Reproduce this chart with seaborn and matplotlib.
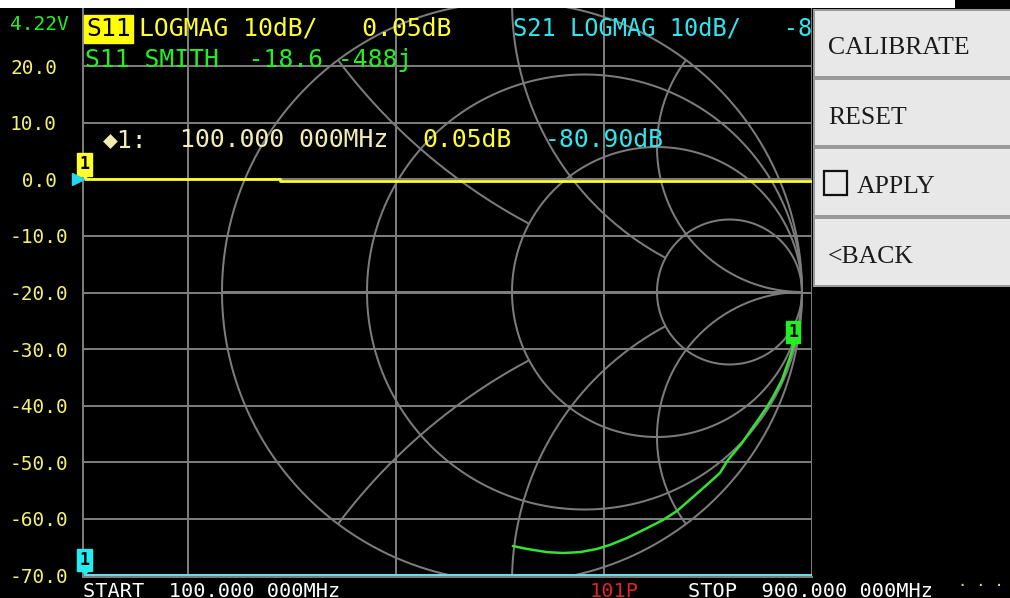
import numpy as np
import matplotlib
matplotlib.use("Agg")
import matplotlib.pyplot as plt
import matplotlib.transforms as mtransforms
from matplotlib.patches import Rectangle
import seaborn as sns

s11_freq_mhz = [100, 288, 900]
s11_logmag_db = [0.05, -0.30, -0.30]
s21_freq_mhz = [100, 900]
s21_logmag_db = [-80.90, -80.90]
# S11 on the Smith chart (reflection coefficient), 100 MHz -> 900 MHz
s11_gamma_re = [0.969, 0.959, 0.931, 0.900, 0.879, 0.831, 0.793, 0.745, 0.717, 0.683,
                0.624, 0.569, 0.521, 0.466, 0.397, 0.338, 0.293, 0.234, 0.176, 0.121,
                0.052, 0.003]
s11_gamma_im = [-0.190, -0.224, -0.303, -0.362, -0.397, -0.466, -0.521, -0.579, -0.624, -0.655,
                -0.707, -0.755, -0.786, -0.814, -0.848, -0.872, -0.886, -0.897, -0.900, -0.897,
                -0.886, -0.876]
db_ticks = [20, 10, 0, -10, -20, -30, -40, -50, -60, -70]
freq_grid_mhz = [200, 400, 600, 800]
smith_resistances = [3, 1, 1 / 3]
smith_reactances = [2, 1, 0.5]
menu_items = ["CALIBRATE", "RESET", "APPLY", "<BACK"]

header_s11 = "LOGMAG 10dB/   0.05dB"
header_s21 = "S21 LOGMAG 10dB/   -80.90dB"
smith_line = "S11 SMITH  -18.6 -488j"
marker_freq = "100.000 000MHz"
marker_s11 = "0.05dB"
marker_s21 = "-80.90dB"
start_text = "START  100.000 000MHz"
stop_text = "STOP  900.000 000MHz"
points_text = "101P"
battery_text = "4.22V"

# ---------------- style ----------------
sns.set_theme(style="dark")
plt.rcParams["font.family"] = ["DejaVu Sans Mono", "DejaVu Sans"]

GRID = "#7c7c7c"
LW = 1.45
YEL = "#ffff2e"
LABEL_YEL = "#f4f070"
CYAN_T = "#2ee6ee"
CYAN_L = "#6fd9e3"
GREEN_T = "#22f022"
GREEN_L = "#33e233"
PALE = "#f3ecb4"
MONO = "DejaVu Sans Mono"

W, H = 1010, 598
fig = plt.figure(figsize=(W / 100, H / 100), dpi=100, facecolor="black")


def fx(px):
    return px / W


def fy(py):
    return 1 - py / H


L, R, T, B = 83, 812, 8, 577
rect = [fx(L), fy(B), fx(R) - fx(L), fy(T) - fy(B)]

# Smith chart geometry: centre (512, 292) px, radius 290 px
CX, CY, RAD = 512, 292, 290
sx = ((L - CX) / RAD, (R - CX) / RAD)
sy = ((CY - B) / RAD, (CY - T) / RAD)

# --- Smith grid (bottom layer) ---
ax2 = fig.add_axes(rect)
ax2.set_facecolor("black")
ax2.set_xlim(*sx)
ax2.set_ylim(*sy)
ax2.axis("off")

t = np.linspace(0, 2 * np.pi, 4000)


def circ(cx, cy, r):
    return cx + r * np.cos(t), cy + r * np.sin(t)


def inside(x, y, cx, cy, r):
    return (x - cx) ** 2 + (y - cy) ** 2 < r ** 2 - 1e-9


def rcircle(rv):
    return rv / (1 + rv), 0.0, 1 / (1 + rv)


def draw(x, y, mask=None):
    if mask is not None:
        x = np.where(mask, x, np.nan)
        y = np.where(mask, y, np.nan)
    ax2.plot(x, y, color=GRID, lw=LW, solid_capstyle="butt")


# outer circle and real axis
draw(*circ(0, 0, 1))
ax2.plot([-1, 1], [0, 0], color=GRID, lw=LW)
# resistance circles
for rv in smith_resistances:
    draw(*circ(*rcircle(rv)))
# reactance arcs, hidden inside the next larger resistance circle
hide_in = {2: None, 1: 3, 0.5: 1}
for xv in smith_reactances:
    for sgn in (1, -1):
        x, y = circ(1, sgn / xv, 1 / xv)
        m = inside(x, y, 0, 0, 1.0000001)
        if hide_in[xv] is not None:
            m &= ~inside(x, y, *rcircle(hide_in[xv]))
        draw(x, y, m)

# --- log-mag axes (middle layer) ---
ax = fig.add_axes(rect)
ax.set_facecolor("none")
ax.set_xlim(98.5, 781)
ax.set_ylim(-70.35, 30.35)
ax.set_xticks(freq_grid_mhz)
ax.set_xticklabels([])
ax.set_yticks(db_ticks)
ax.set_yticklabels([f"{v:4.1f}" for v in db_ticks])
ax.grid(True, color=GRID, lw=LW)
ax.tick_params(axis="both", length=0)
ax.tick_params(axis="y", pad=73 * 0.72, labelsize=14, labelcolor=LABEL_YEL)
for lab in ax.get_yticklabels():
    lab.set_horizontalalignment("left")
    lab.set_fontfamily(MONO)
for s in ("top", "right"):
    ax.spines[s].set_visible(False)
for s in ("left", "bottom"):
    ax.spines[s].set_color(GRID)
    ax.spines[s].set_linewidth(LW)
ax.set_xlabel("")
ax.set_ylabel("")

ylo = ax.get_ylim()[0] + 0.35
s21_clipped = list(np.clip(s21_logmag_db, ylo, None))
sns.lineplot(x=s21_freq_mhz, y=s21_clipped, ax=ax, color=CYAN_L, lw=2.2,
             estimator=None, sort=False)
sns.lineplot(x=s11_freq_mhz, y=s11_logmag_db, ax=ax, color=YEL, lw=2.0,
             estimator=None, sort=False, drawstyle="steps-post")


def marker_box(axis, x, y, color):
    axis.annotate("1", xy=(x, y), xytext=(0, 15), textcoords="offset pixels",
                  ha="center", va="center", fontsize=12, fontweight="bold",
                  family=MONO, color="black", annotation_clip=False, zorder=6,
                  bbox=dict(boxstyle="square,pad=0.14", fc=color, ec=color))
    tr = mtransforms.offset_copy(axis.transData, fig=fig, x=0, y=4, units="dots")
    axis.plot([x], [y], marker="v", ms=6, color=color, mec=color,
              transform=tr, clip_on=False, zorder=6)


marker_box(ax, s11_freq_mhz[0], s11_logmag_db[0], YEL)
marker_box(ax, s21_freq_mhz[0], s21_clipped[0], "#22eef2")
tri = mtransforms.offset_copy(ax.transData, fig=fig, x=-7, y=0, units="dots")
ax.plot([s11_freq_mhz[0]], [0], marker=">", ms=9, color="#22d8f0", transform=tri,
        clip_on=False, zorder=7)

# --- Smith trace (top layer) ---
ax3 = fig.add_axes(rect)
ax3.set_facecolor("none")
ax3.axis("off")
sns.lineplot(x=s11_gamma_re, y=s11_gamma_im, ax=ax3, color=GREEN_L, lw=1.8,
             estimator=None, sort=False)
ax3.set_xlim(*sx)
ax3.set_ylim(*sy)
marker_box(ax3, s11_gamma_re[0], s11_gamma_im[0], "#22ee22")

# ---------------- header / footer texts ----------------
BIG = 17.8
SMALL = 14.6


def ftext(px, py, s, color, size=BIG, **kw):
    return fig.text(fx(px), fy(py), s, color=color, fontsize=size, family=MONO,
                    ha="left", va="baseline", **kw)


ftext(10, 30, battery_text, GREEN_T, size=14)
ftext(86, 36, "S11", "black",
      bbox=dict(boxstyle="square,pad=0.08", fc="#ffff00", ec="#ffff00"))
ftext(139, 36, header_s11, YEL)
# S21 header runs under the menu: clip it at the plot's right edge
ax.text(fx(513), fy(36), header_s21, color=CYAN_T, fontsize=17.0, family=MONO,
        ha="left", va="baseline", transform=fig.transFigure, clip_on=True)
ftext(85, 67, smith_line, GREEN_T)
ftext(103, 147, "\u25c61:", PALE)
ftext(180, 147, marker_freq, PALE)
ftext(422, 147, marker_s11, YEL)
ftext(545, 147, marker_s21, CYAN_T)
ftext(83, 597, start_text, "white", size=SMALL)
ftext(590, 597, points_text, "#e02424", size=SMALL)
ftext(688, 597, stop_text, "white", size=SMALL)
ftext(958, 590, "\u00b7 \u00b7 \u00b7", "#e8e040", size=11)

# white strip of the page above the screen
fig.patches.append(Rectangle((0, fy(8)), fx(955), 8 / H, transform=fig.transFigure,
                             fc="white", ec="none", zorder=1))

# ---------------- menu ----------------
axm = fig.add_axes([fx(813), fy(287), fx(1010) - fx(813), fy(9) - fy(287)])
axm.set_zorder(10)
axm.set_xlim(813, 1010)
axm.set_ylim(287, 9)
axm.axis("off")
axm.add_patch(Rectangle((813, 9), 197, 278, fc="#9a9a9a", ec="none"))
edges = [9, 78, 147, 217, 287]
for i, item in enumerate(menu_items):
    y0, y1 = edges[i], edges[i + 1]
    axm.add_patch(Rectangle((815, y0 + 1.5), 197, y1 - y0 - 3.5, fc="#e8e8e8", ec="none"))
    yc = (y0 + y1) / 2 + 1
    if item == "APPLY":
        axm.add_patch(Rectangle((824, yc - 12), 23, 24, fc="none", ec="#111111", lw=1.6))
        axm.text(857, yc + 10, item, fontsize=18.5, family="Liberation Serif",
                 color="#1a1a1a", va="baseline", ha="left")
    else:
        axm.text(828, yc + 10, item, fontsize=18.5, family="Liberation Serif",
                 color="#1a1a1a", va="baseline", ha="left")

fig.savefig("out.png", dpi=100, facecolor="black")
